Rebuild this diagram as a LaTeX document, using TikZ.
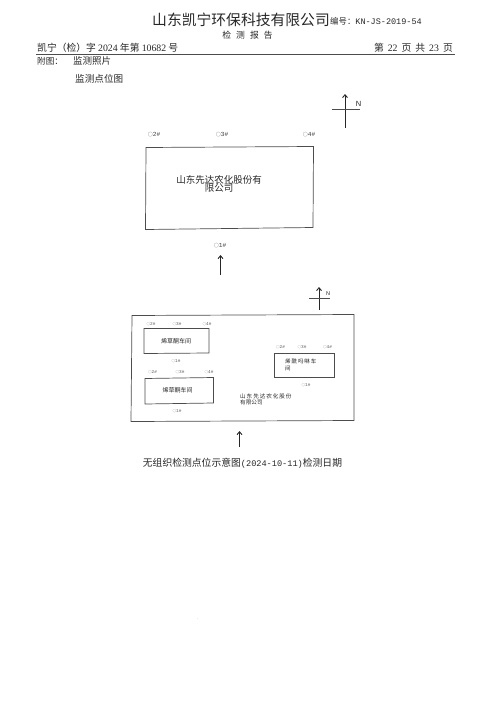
\documentclass[tikz,border=0pt]{standalone}
\usepackage{fontspec}
\setmainfont{Liberation Serif}
\newfontfamily\cjk{Noto Sans CJK SC}
\newfontfamily\monof{Liberation Mono}
\newfontfamily\sansf{Liberation Sans}
\usetikzlibrary{arrows.meta}
\tikzset{
  x=1pt,y=-1pt,
  txt/.style={inner sep=0pt,anchor=west,text=black!85},
  ctr/.style={inner sep=0pt,anchor=center,text=black!85},
  wall/.style={draw=black!70,line width=0.7pt},
  upar/.style={-{Straight Barb[length=3pt,width=5pt]},line width=0.9pt,black!85},
  bar/.style={line width=0.7pt,black!70},
  pt/.style={inner sep=0pt,anchor=center,text=black!75},
  spt/.style={inner sep=0pt,anchor=center,text=black!65}
}
\newcommand{\fs}[1]{\fontsize{#1}{#1}\selectfont}
\newcommand{\bigpt}[1]{{\cjk\fs{5}○}{\monof\fs{6.2}#1\#}}
\newcommand{\smallpt}[1]{{\cjk\fs{3.6}○}{\monof\fs{4.4}#1\#}}
\begin{document}
\begin{tikzpicture}
\useasboundingbox (0,0) rectangle (491,701);
% header
\node[txt] (title) at (152,20) {\cjk\fs{14.8}山东凯宁环保科技有限公司};
\node[txt] (code) at (330,21) {{\cjk\fs{8.4}编号：}{\monof\fs{8.5}KN-JS-2019-54}};
\node[ctr] (rep) at (247.5,35) {\cjk\fs{8.8}检\hspace{5pt}测\hspace{5pt}报\hspace{5pt}告};
\node[txt] (no) at (37,47.5) {\cjk\fs{9.8}凯宁（检）字 {\rmfamily 2024} 年第 {\rmfamily 10682} 号};
\node[anchor=east,inner sep=0pt,text=black!85] (pg) at (453,47.5) {\cjk\fs{9.8}第\hspace{4pt}{\rmfamily 22}\hspace{4pt}页\hspace{4pt}共\hspace{4pt}{\rmfamily 23}\hspace{4pt}页};
\coordinate (ruleL) at (36,54.5);
\coordinate (ruleR) at (455,54.5);
\draw[line width=0.6pt,black!70] (ruleL) -- (ruleR);
\node[txt] (att) at (37,61) {\cjk\fs{8.6}附图：};
\node[txt] (photo) at (73,61) {\cjk\fs{9.5}监测照片};
\node[txt] (mp) at (75,79) {\cjk\fs{9.6}监测点位图};
% north 1
\coordinate (n1a) at (345,128);
\coordinate (n1b) at (345,94);
\coordinate (n1c) at (332,109);
\coordinate (n1d) at (360,109);
\draw[upar] (n1a) -- (n1b);
\draw[bar] (n1c) -- (n1d);
\node[ctr] (n1) at (358.5,104) {\sansf\fs{7.5}N};
% site 1
\node[pt] (p2) at (154,134.5) {\bigpt{2}};
\node[pt] (p3) at (222,134.5) {\bigpt{3}};
\node[pt] (p4) at (309,134.5) {\bigpt{4}};
\draw[wall] (146,147.5) -- (313.5,146.5) -- (313,227.5) -- (145.5,229.5) -- cycle;
\node[ctr,align=center,font=\cjk\fs{9.5}] (co1) at (219,184) {山东先达农化股份有\\[-1.5pt]限公司};
\node[pt] (p1) at (220,245.5) {\bigpt{1}};
\coordinate (a1a) at (220.5,275);
\coordinate (a1b) at (220.5,255);
\draw[upar] (a1a) -- (a1b);
% north 2
\coordinate (n2a) at (319,310);
\coordinate (n2b) at (319,287);
\coordinate (n2c) at (309,298);
\coordinate (n2d) at (330,298);
\draw[upar] (n2a) -- (n2b);
\draw[bar] (n2c) -- (n2d);
\node[ctr] (n2) at (328,294) {\sansf\fs{5.5}N};
% site 2
\draw[wall] (132,315.5) -- (354,314.5) -- (354,420.5) -- (131,421.5) -- cycle;
\draw[wall] (144,328.5) -- (209,328.5) -- (209,353) -- (144,353.5) -- cycle;
\node[spt] (a2) at (151,324.5) {\smallpt{2}};
\node[spt] (a3) at (177,324.5) {\smallpt{3}};
\node[spt] (a4) at (207,324.5) {\smallpt{4}};
\node[ctr] (wa) at (176,341) {\cjk\fs{6}烯草酮车间};
\node[spt] (a1) at (176,361) {\smallpt{1}};
\draw[wall] (145,378.5) -- (213.5,377.5) -- (213.5,403) -- (145,404) -- cycle;
\node[spt] (b2) at (152.5,372.5) {\smallpt{2}};
\node[spt] (b3) at (180,372.5) {\smallpt{3}};
\node[spt] (b4) at (209,372) {\smallpt{4}};
\node[ctr] (wb) at (177.5,390) {\cjk\fs{6}烯草酮车间};
\node[spt] (b1) at (177,411.5) {\smallpt{1}};
\draw[wall] (274,353) -- (334.5,353) -- (334.5,377.5) -- (274,377.5) -- cycle;
\node[spt] (c2) at (280.5,347.5) {\smallpt{2}};
\node[spt] (c3) at (302,347.5) {\smallpt{3}};
\node[spt] (c4) at (327.5,347.5) {\smallpt{4}};
\node[txt,align=left,font=\cjk\fs{5.5}] (wc) at (285,365) {烯\,酰\,吗\,啉\,车\\[1pt]间};
\node[spt] (c1) at (306,385) {\smallpt{1}};
\node[txt,align=left,font=\cjk\fs{5.6}] (co2) at (240,399.5) {山\,东\,先\,达\,农\,化\,股\,份\\[1pt]有限公司};
\coordinate (a2a) at (239.5,447);
\coordinate (a2b) at (239.5,431);
\draw[upar] (a2a) -- (a2b);
\node[ctr] (cap) at (242.5,463) {{\cjk\fs{9.8}无组织检测点位示意图}{\monof\fs{8.6}(2024-10-11)}{\cjk\fs{9.8}检测日期}};
\node[ctr,text=black!50] (dot) at (197.5,619) {\fs{4}.};
\end{tikzpicture}
\end{document}
